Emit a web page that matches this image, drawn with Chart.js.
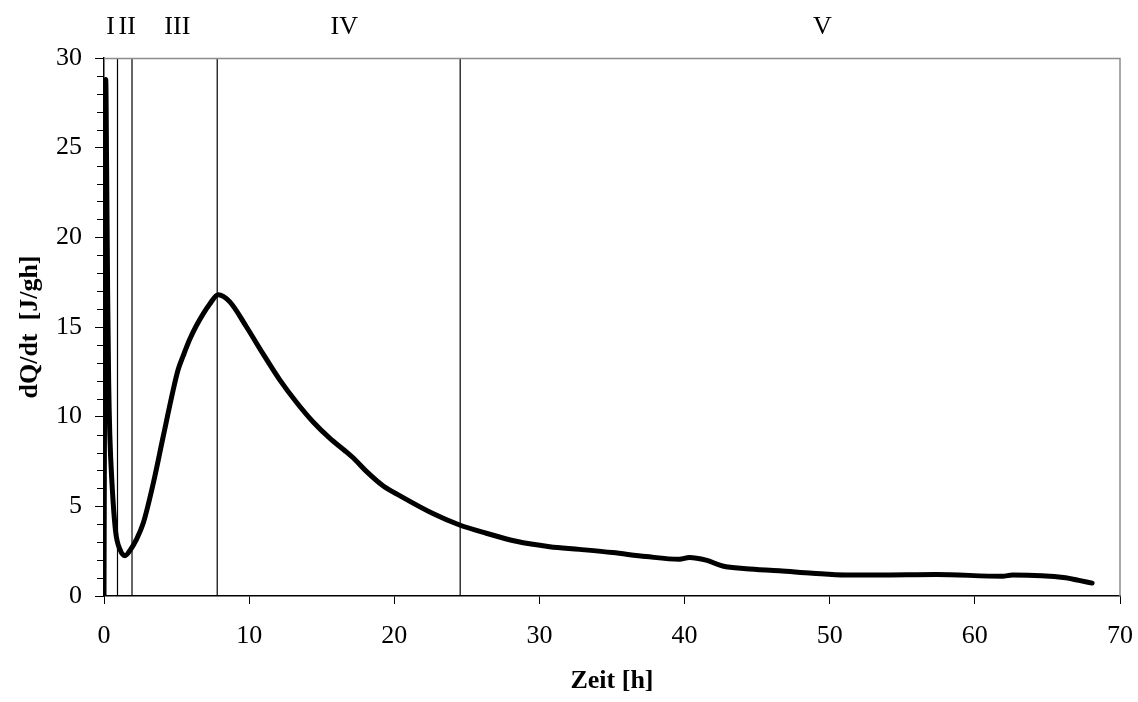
<!DOCTYPE html>
<html>
<head>
<meta charset="utf-8">
<script src="https://cdn.jsdelivr.net/npm/chart.js@4.4.1/dist/chart.umd.min.js"></script>
<style>
  html, body { margin: 0; padding: 0; background: #ffffff; overflow: hidden; }
  #wrap { width: 1138px; height: 702px; position: relative; }
</style>
</head>
<body>
<div id="wrap"><canvas id="c"></canvas></div>
<script>
// ---- data ----
const timeH = [0, 0.05, 0.12, 0.18, 0.25, 0.32, 0.4, 0.55, 0.8, 1.1, 1.45, 1.8, 2.2, 2.7, 3.4, 4.08, 4.77, 5.1, 5.46, 5.9, 6.38, 7.3, 7.87, 8.67, 9.82, 10.96, 12.11, 13.26, 14.41, 15.55, 16.6, 17.3, 18.08, 19.22, 20.37, 22.66, 24.5, 26.34, 28.4, 30.7, 32.76, 35.05, 37.35, 39.64, 40.33, 41.48, 42.62, 44.23, 46.52, 48.82, 51.11, 53.4, 57.3, 61.9, 62.6, 66.25, 67.17, 68.08];
const heatFlow = [0, 14, 28.8, 24, 17, 12, 9, 6.3, 3.6, 2.6, 2.25, 2.55, 3.1, 4.05, 6.3, 8.9, 11.5, 12.6, 13.4, 14.3, 15.1, 16.3, 16.8, 16.4, 15.0, 13.5, 12.05, 10.8, 9.7, 8.8, 8.1, 7.6, 6.95, 6.15, 5.6, 4.6, 3.96, 3.5, 3.05, 2.75, 2.6, 2.42, 2.2, 2.05, 2.15, 2.0, 1.67, 1.52, 1.41, 1.27, 1.17, 1.17, 1.2, 1.1, 1.17, 1.02, 0.87, 0.72];
const phaseBoundaries = [0.93, 1.93, 7.8, 24.54];
const phaseLabels = ['I', 'II', 'III', 'IV', 'V'];
const phaseLabelAt = [0.45, 1.6, 5.05, 16.55, 49.5];
const xTickValues = [0, 10, 20, 30, 40, 50, 60, 70];
const yTickValues = [0, 5, 10, 15, 20, 25, 30];
const xTitle = 'Zeit [h]';
const yTitle = 'dQ/dt  [J/gh]';

const FONT = "'Liberation Serif', 'Times New Roman', serif";

const curve = timeH.map((t, i) => ({ x: t, y: heatFlow[i] }));
const boundarySets = phaseBoundaries.map(b => ({
  data: [{ x: b, y: 0 }, { x: b, y: 30 }],
  borderColor: '#000000',
  borderWidth: 1.2,
  pointRadius: 0,
  fill: false,
  tension: 0
}));

const framePlugin = {
  id: 'frame',
  afterDatasetsDraw(chart) {
    const { ctx, chartArea: a, scales } = chart;
    ctx.save();
    // gray top and right frame
    ctx.strokeStyle = '#8c8c8c';
    ctx.lineWidth = 1.5;
    ctx.beginPath();
    ctx.moveTo(a.left, a.top + 0.5);
    ctx.lineTo(a.right, a.top + 0.5);
    ctx.lineTo(a.right, a.bottom);
    ctx.stroke();
    // minor y ticks
    ctx.strokeStyle = '#000000';
    ctx.lineWidth = 1;
    for (let v = 0; v <= 30; v++) {
      if (v % 5 === 0) continue;
      const y = Math.round(scales.y.getPixelForValue(v)) + 0.5;
      ctx.beginPath();
      ctx.moveTo(a.left - 7, y);
      ctx.lineTo(a.left, y);
      ctx.stroke();
    }
    // phase labels
    ctx.fillStyle = '#000000';
    ctx.font = '26px ' + FONT;
    ctx.textAlign = 'center';
    ctx.textBaseline = 'middle';
    phaseLabels.forEach((lab, i) => {
      ctx.fillText(lab, scales.x.getPixelForValue(phaseLabelAt[i]), a.top - 31);
    });
    ctx.restore();
  }
};

new Chart(document.getElementById('c'), {
  type: 'line',
  data: {
    datasets: [{
      data: curve,
      borderColor: '#000000',
      borderWidth: 5,
      pointRadius: 0,
      fill: false,
      cubicInterpolationMode: 'monotone',
      borderJoinStyle: 'round',
      borderCapStyle: 'round'
    }].concat(boundarySets)
  },
  options: {
    responsive: true,
    maintainAspectRatio: false,
    animation: false,
    layout: { padding: { top: 58, right: 18, left: 0, bottom: 0 } },
    plugins: { legend: { display: false }, tooltip: { enabled: false } },
    scales: {
      x: {
        type: 'linear',
        min: 0, max: 70,
        afterBuildTicks(scale) { scale.ticks = xTickValues.map(v => ({ value: v })); },
        afterFit(scale) { scale.height = 106; scale.paddingLeft = 0; scale.paddingRight = 0; },
        border: { color: '#000000', width: 1.5 },
        grid: { drawOnChartArea: false, drawTicks: true, tickLength: 8, tickColor: '#000000', tickWidth: 1 },
        ticks: { color: '#000000', font: { family: FONT, size: 26 }, padding: 17, maxRotation: 0 },
        title: { display: true, text: xTitle, color: '#000000', font: { family: FONT, size: 26, weight: 'bold' }, padding: { bottom: 5, top: 0 } }
      },
      y: {
        type: 'linear',
        min: 0, max: 30,
        afterBuildTicks(scale) { scale.ticks = yTickValues.map(v => ({ value: v })); },
        afterFit(scale) { scale.width = 104; scale.paddingTop = 0; scale.paddingBottom = 0; },
        border: { color: '#000000', width: 1.5 },
        grid: { drawOnChartArea: false, drawTicks: true, tickLength: 9, tickColor: '#000000', tickWidth: 1 },
        ticks: { color: '#000000', font: { family: FONT, size: 26 }, padding: 13 },
        title: { display: true, text: yTitle, color: '#000000', font: { family: FONT, size: 26, weight: 'bold' }, padding: { top: 15, bottom: 0 } }
      }
    }
  },
  plugins: [framePlugin]
});
</script>
</body>
</html>
